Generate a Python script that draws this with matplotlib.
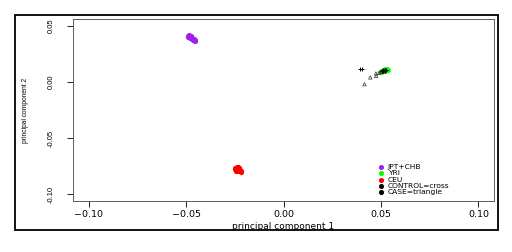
import matplotlib.pyplot as plt
from matplotlib.patches import Rectangle

plt.rcParams['font.family'] = ['Liberation Sans', 'DejaVu Sans']

# PCA scores
jpt_x = [-0.0492, -0.0486, -0.0480, -0.0476, -0.0486, -0.0476, -0.0470, -0.0466,
         -0.0460, -0.0456, -0.0452, -0.0492, -0.0482, -0.0472, -0.0464, -0.0484]
jpt_y = [0.0408, 0.0415, 0.0412, 0.0400, 0.0396, 0.0405, 0.0392, 0.0385,
         0.0380, 0.0372, 0.0366, 0.0400, 0.0388, 0.0378, 0.0370, 0.0405]

ceu_x = [-0.0248, -0.0240, -0.0234, -0.0228, -0.0244, -0.0236, -0.0226, -0.0222,
         -0.0238, -0.0230, -0.0218, -0.0246, -0.0219, -0.0250, -0.0236]
ceu_y = [-0.0762, -0.0756, -0.0754, -0.0762, -0.0780, -0.0772, -0.0770, -0.0786,
         -0.0794, -0.0797, -0.0802, -0.0790, -0.0790, -0.0776, -0.0766]

yri_x = [0.0500, 0.0510, 0.0520, 0.0530, 0.0537, 0.0527, 0.0505, 0.0515, 0.0495]
yri_y = [0.0095, 0.0106, 0.0114, 0.0112, 0.0103, 0.0094, 0.0087, 0.0098, 0.0090]

case_x = [0.0415, 0.0445, 0.0475, 0.0474, 0.0490, 0.0500, 0.0508, 0.0515, 0.0520, 0.0512]
case_y = [-0.0020, 0.0040, 0.0053, 0.0075, 0.0080, 0.0090, 0.0098, 0.0102, 0.0106, 0.0094]

ctrl_x = [0.0393, 0.0403, 0.0505, 0.0512, 0.0518, 0.0525, 0.0508, 0.0522]
ctrl_y = [0.0117, 0.0115, 0.0095, 0.0103, 0.0108, 0.0104, 0.0100, 0.0098]

legend_labels = ['JPT+CHB', 'YRI', 'CEU', 'CONTROL=cross', 'CASE=triangle']
legend_colors = ['#A020F0', '#00FF00', '#FF0000', 'black', 'black']

fig = plt.figure(figsize=(5.12, 2.52), dpi=100)
fig.patches.append(Rectangle((15 / 512, 1 - 230 / 252), 483 / 512, 215 / 252,
                             transform=fig.transFigure, fill=False,
                             edgecolor='black', linewidth=1.3))
ax = fig.add_axes([0.1426, 0.2024, 0.8224, 0.7222])

ax.scatter(jpt_x, jpt_y, s=14, color='#A020F0', linewidths=0)
ax.scatter(ceu_x, ceu_y, s=14, color='#FF0000', linewidths=0)
ax.scatter(yri_x, yri_y, s=12, color='#00FF00', linewidths=0)
ax.scatter(case_x, case_y, s=6, marker='^', facecolors='none',
           edgecolors='#333333', linewidths=0.5)
ax.scatter(ctrl_x, ctrl_y, s=8, marker='+', color='black', linewidths=0.7)

for lab, col in zip(legend_labels, legend_colors):
    ax.scatter([], [], s=7, color=col, label=lab)
leg = ax.legend(loc='upper left', bbox_to_anchor=(0.715, 0.225), frameon=False,
                prop={'family': 'DejaVu Sans', 'size': 5.4}, handletextpad=0.4,
                labelspacing=0.0, borderpad=0, handlelength=0.9)

ax.set_xlim(-0.108, 0.108)
ax.set_ylim(-0.106, 0.056)
ax.set_xticks([-0.10, -0.05, 0.00, 0.05, 0.10])
ax.set_xticklabels(['\u22120.10', '\u22120.05', '0.00', '0.05', '0.10'],
                   family='DejaVu Sans', fontsize=6.8)
ax.set_yticks([-0.10, -0.05, 0.00, 0.05])
ax.set_yticklabels(['-0.10', '-0.05', '0.00', '0.05'], rotation=90,
                   va='center', fontsize=5.5)
ax.tick_params(direction='out', length=4.3, width=0.6, pad=2)
ax.tick_params(axis='y', pad=9)
for sp in ax.spines.values():
    sp.set_linewidth(0.6)
    sp.set_color('#444444')

ax.set_xlabel('principal component 1', family='DejaVu Sans', fontsize=6.5,
              labelpad=2)
ax.set_ylabel('principal component 2', fontsize=4.8, labelpad=13)

plt.savefig('out.png', dpi=100)
